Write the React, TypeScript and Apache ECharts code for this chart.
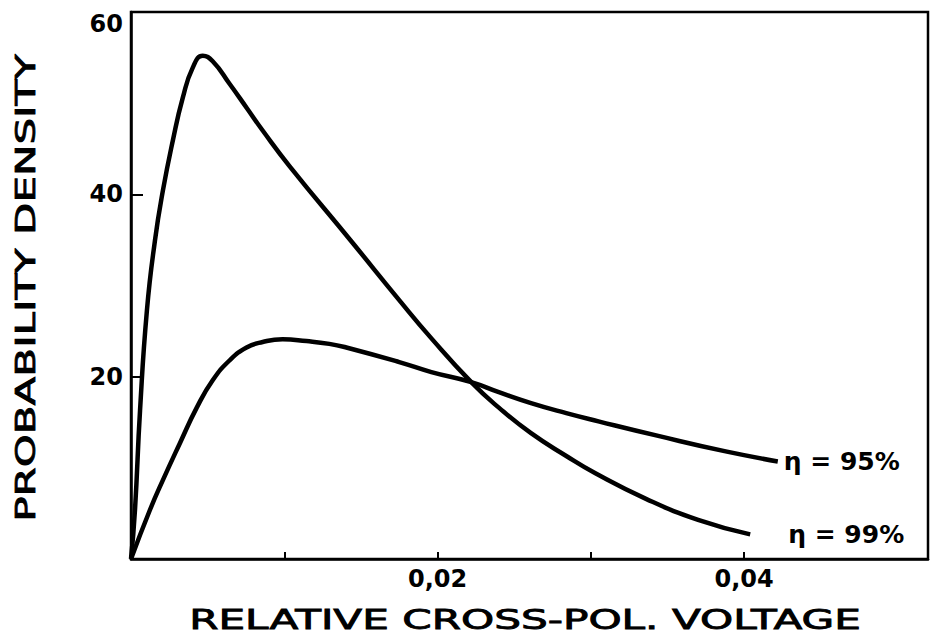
import React, { useEffect, useRef } from "react";
import * as echarts from "echarts";

// Tick values and labels
const X_TICK_VALUES = [0.01, 0.02, 0.03, 0.04];
const X_LABEL_VALUES = [0.02, 0.04];
const Y_LABEL_VALUES = [20, 40, 60];

// Series names
const NAME_99 = "η = 99%";
const NAME_95 = "η = 95%";

// η = 99% curve [relative cross-pol voltage, probability density]
const ETA99: number[][] = [
  [0, 0], [0.00026, 5.4], [0.00059, 16.3], [0.00104, 27.3], [0.00156, 34.9],
  [0.00208, 40.4], [0.00273, 45.9], [0.00338, 50.6], [0.00403, 53.9],
  [0.00468, 55.2], [0.00533, 54.6], [0.00644, 52.1], [0.00754, 49.5],
  [0.00859, 47.0], [0.01034, 43.1], [0.0144, 34.8], [0.0175, 28.4],
  [0.0196, 24.2], [0.0222, 19.4], [0.024, 16.6], [0.0261, 13.8],
  [0.0284, 11.3], [0.0303, 9.4], [0.0336, 6.6], [0.037, 4.3], [0.0404, 2.7],
];

// η = 95% curve
const ETA95: number[][] = [
  [0, 0], [0.00124, 5.4], [0.00208, 8.65], [0.00319, 12.7], [0.00429, 16.6],
  [0.00533, 19.6], [0.00644, 21.8], [0.00754, 23.2], [0.00859, 23.8],
  [0.00989, 24.1], [0.01145, 23.9], [0.01294, 23.6], [0.01405, 23.2],
  [0.0175, 21.6], [0.0196, 20.5], [0.0222, 19.4], [0.024, 18.3],
  [0.0261, 17.1], [0.0284, 16.0], [0.0305, 15.1], [0.0344, 13.5],
  [0.0388, 11.8], [0.0422, 10.7],
];

const X_TITLE = "RELATIVE CROSS-POL. VOLTAGE";
const Y_TITLE = "PROBABILITY DENSITY";

const FONT = '"DejaVu Sans", sans-serif';

function measure(text: string, size: number, weight: string): number {
  const c = document.createElement("canvas").getContext("2d");
  if (!c) return text.length * size * 0.7;
  c.font = `${weight} ${size}px "DejaVu Sans"`;
  return c.measureText(text).width;
}

export default function App() {
  const ref = useRef<HTMLDivElement>(null);
  useEffect(() => {
    if (!ref.current) return;
    const chart = echarts.init(ref.current, undefined, { renderer: "svg" });
    const titleSize = 26;
    const titleWeight = "normal";
    const xScale = 672 / measure(X_TITLE, titleSize, titleWeight);
    const yScale = 468 / measure(Y_TITLE, titleSize, titleWeight);

    const lineStyle = { color: "#000", width: 4.5 };
    const labelStyle = {
      show: true,
      formatter: "{a}",
      color: "#000",
      fontFamily: FONT,
      fontWeight: "bold" as const,
      fontSize: 25,
    };

    chart.setOption({
      animation: false,
      backgroundColor: "#fff",
      grid: {
        left: 131,
        right: 7,
        top: 12,
        bottom: 78,
        show: true,
        borderColor: "#000",
        borderWidth: 2.5,
        backgroundColor: "transparent",
      },
      xAxis: {
        type: "value",
        min: 0,
        max: 0.052,
        axisLine: { show: true, lineStyle: { color: "#000", width: 2.5 } },
        axisTick: {
          show: true,
          inside: true,
          length: 7,
          customValues: X_TICK_VALUES,
          lineStyle: { color: "#000", width: 2 },
        },
        axisLabel: {
          customValues: X_LABEL_VALUES,
          formatter: (v: number) => v.toFixed(2).replace(".", ","),
          color: "#000",
          fontFamily: FONT,
          fontWeight: "bold",
          fontSize: 24,
          margin: 8,
        },
        splitLine: { show: false },
      },
      yAxis: {
        type: "value",
        min: 0,
        max: 60,
        interval: 20,
        axisLine: { show: true, lineStyle: { color: "#000", width: 2.5 } },
        axisTick: {
          show: true,
          inside: true,
          length: 12,
          customValues: Y_LABEL_VALUES,
          lineStyle: { color: "#000", width: 2 },
        },
        axisLabel: {
          customValues: Y_LABEL_VALUES,
          color: "#000",
          fontFamily: FONT,
          fontWeight: "bold",
          fontSize: 24,
          margin: 8,
          verticalAlignMaxLabel: "top",
        },
        splitLine: { show: false },
      },
      series: [
        {
          name: NAME_99,
          type: "line",
          data: ETA99,
          showSymbol: false,
          smooth: 0.5,
          lineStyle,
          endLabel: { ...labelStyle, distance: 38 },
        },
        {
          name: NAME_95,
          type: "line",
          data: ETA95,
          showSymbol: false,
          smooth: 0.5,
          lineStyle,
          endLabel: { ...labelStyle, distance: 6 },
        },
      ],
      graphic: [
        {
          type: "text",
          x: 525,
          y: 620,
          scaleX: xScale,
          style: {
            text: X_TITLE,
            fill: "#000",
            font: `${titleWeight} ${titleSize}px ${FONT}`,
            align: "center",
            verticalAlign: "middle",
            stroke: "#000",
            lineWidth: 0.8,
          },
        },
        {
          type: "text",
          x: 26,
          y: 288,
          rotation: Math.PI / 2,
          scaleX: yScale,
          style: {
            text: Y_TITLE,
            fill: "#000",
            font: `${titleWeight} ${titleSize}px ${FONT}`,
            align: "center",
            verticalAlign: "middle",
            stroke: "#000",
            lineWidth: 0.8,
          },
        },
      ],
    });
    return () => chart.dispose();
  }, []);
  return (
    <div
      ref={ref}
      style={{ position: "fixed", left: 0, top: 0, width: 935, height: 637 }}
    />
  );
}
